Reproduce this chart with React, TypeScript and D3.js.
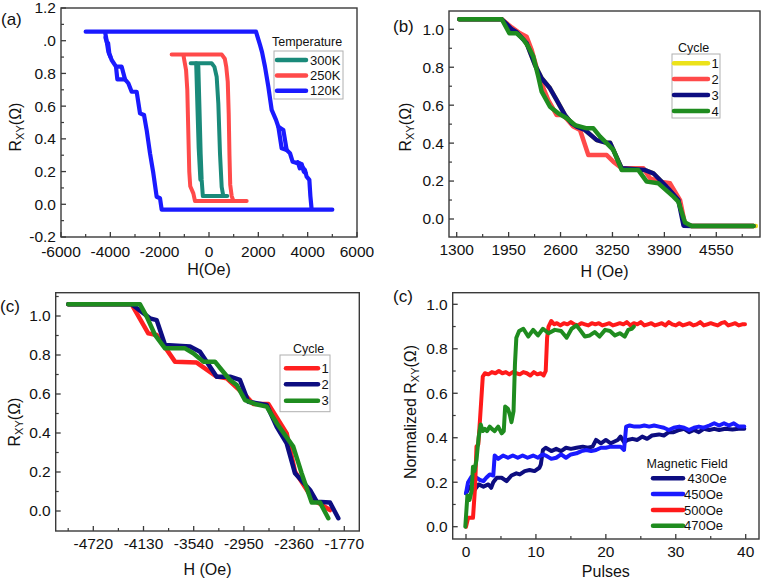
import React from "react";
import * as d3 from "d3";

type Pt = [number, number];

const FONT = "'Liberation Sans', Arial, Helvetica, sans-serif";

// ---------------- Panel (a) ----------------
const aXTicks = [-6000, -4000, -2000, 0, 2000, 4000, 6000];
const aXLabels = ["-6000", "-4000", "-2000", "0", "2000", "4000", "6000"];
const aXMinor = [-5000, -3000, -1000, 1000, 3000, 5000];
const aYTicks = [-0.2, 0, 0.2, 0.4, 0.6, 0.8, 1.0, 1.2];
const aYLabels = ["-0.2", "0.0", "0.2", "0.4", "0.6", "0.8", ".0", "1.2"];
const aYMinor = [-0.1, 0.1, 0.3, 0.5, 0.7, 0.9, 1.1];
const aLegendTitle = "Temperature";
const aLegendNames = ["300K", "250K", "120K"];

const a120Main: Pt[] = [
  [-5000, 1.055], [1905, 1.055], [2068, 0.974], [2150, 0.93], [2270, 0.841], [2405, 0.719],
  [2541, 0.577], [2716, 0.516], [2811, 0.474], [2946, 0.342], [3149, 0.332], [3284, 0.312],
  [3392, 0.26], [3500, 0.255], [3689, 0.25], [3740, 0.24], [3824, 0.22], [3890, 0.21],
  [3959, 0.169], [4068, 0.149], [4110, 0.05], [4162, -0.033], [5000, -0.033],
  [-1918, -0.033], [-1986, 0.037], [-2122, 0.046], [-2257, 0.19], [-2392, 0.312],
  [-2527, 0.454], [-2635, 0.546], [-2797, 0.556], [-2932, 0.688], [-3135, 0.688],
  [-3270, 0.74], [-3405, 0.764], [-3540, 0.841], [-3770, 0.841], [-3946, 0.882],
  [-4081, 0.933], [-4150, 1.0], [-4216, 1.055], [-5000, 1.055],
];
const a120LoopR: Pt[] = [[2811, 0.474], [3014, 0.454], [3149, 0.332]];
const a120LoopL: Pt[] = [[-3770, 0.841], [-3716, 0.764], [-3405, 0.764]];
const a120JagR: Pt[] = [[3600, 0.258], [3680, 0.22], [3760, 0.245], [3840, 0.2], [3920, 0.19]];
const a120JagL: Pt[] = [[-4200, 1.02], [-4120, 0.98], [-4090, 0.985], [-4040, 0.92], [-3990, 0.9]];
const a250: Pt[] = [
  [-1514, 0.915], [520, 0.915], [640, 0.89], [700, 0.84], [760, 0.75], [800, 0.55],
  [830, 0.3], [860, 0.12], [920, 0.05], [990, 0.02], [1527, 0.02], [-568, 0.02],
  [-635, 0.067], [-760, 0.11], [-800, 0.2], [-840, 0.45], [-880, 0.7], [-930, 0.82],
  [-1000, 0.88], [-1041, 0.915],
];
const a300: Pt[] = [
  [-743, 0.862], [108, 0.862], [220, 0.84], [311, 0.78], [378, 0.617], [446, 0.31],
  [514, 0.107], [581, 0.05], [740, 0.05], [-250, 0.05], [-297, 0.149], [-338, 0.31],
  [-392, 0.617], [-432, 0.841], [-450, 0.862],
];
const a300b: Pt[] = [[-520, 0.862], [-470, 0.6], [-420, 0.35], [-350, 0.15]];

// ---------------- Panel (b) ----------------
const bXTicks = [1300, 1950, 2600, 3250, 3900, 4550];
const bXLabels = ["1300", "1950", "2600", "3250", "3900", "4550"];
const bXMinor = [1625, 2275, 2925, 3575, 4225, 4875];
const bYTicks = [0, 0.2, 0.4, 0.6, 0.8, 1.0];
const bYLabels = ["0.0", "0.2", "0.4", "0.6", "0.8", "1.0"];
const bYMinor = [0.1, 0.3, 0.5, 0.7, 0.9];
const bLegendTitle = "Cycle";
const bLegendNames = ["1", "2", "3", "4"];
const bCycle1: Pt[] = [
  [1333, 1.053], [1864, 1.053], [1989, 1.0], [2093, 0.97], [2176, 0.926], [2280, 0.812],
  [2364, 0.742], [2468, 0.689], [2552, 0.627], [2656, 0.548], [2740, 0.504], [2803, 0.487],
  [2906, 0.469], [3053, 0.416], [3178, 0.402], [3220, 0.402], [3366, 0.267], [3658, 0.258],
  [3762, 0.241], [3929, 0.17], [4075, 0.1], [4159, -0.032], [4243, -0.037], [5045, -0.037],
];
const bCycle2: Pt[] = [
  [1333, 1.053], [1864, 1.053], [1989, 1.01], [2093, 0.979], [2176, 0.961], [2239, 0.891],
  [2343, 0.733], [2447, 0.627], [2552, 0.548], [2635, 0.548], [2760, 0.487], [2844, 0.469],
  [2948, 0.337], [3178, 0.337], [3261, 0.302], [3366, 0.267], [3637, 0.267], [3721, 0.214],
  [3846, 0.197], [3971, 0.188], [4096, 0.1], [4159, -0.03], [4243, -0.037], [5015, -0.037],
];
const bCycle3: Pt[] = [
  [1333, 1.053], [1864, 1.053], [1989, 1.0], [2051, 0.985], [2176, 0.926], [2280, 0.812],
  [2364, 0.742], [2468, 0.689], [2552, 0.627], [2656, 0.548], [2740, 0.504], [2803, 0.487],
  [2906, 0.469], [3053, 0.416], [3178, 0.402], [3220, 0.402], [3366, 0.267], [3658, 0.258],
  [3762, 0.241], [3929, 0.17], [4075, 0.1], [4140, -0.035], [4243, -0.037], [5015, -0.037],
];
const bCycle4: Pt[] = [
  [1333, 1.053], [1864, 1.053], [1959, 0.979], [2051, 0.979], [2134, 0.947], [2197, 0.908],
  [2259, 0.856], [2322, 0.75], [2364, 0.671], [2468, 0.592], [2572, 0.557], [2678, 0.531],
  [2781, 0.495], [2928, 0.478], [3011, 0.478], [3095, 0.434], [3261, 0.364], [3366, 0.258],
  [3574, 0.258], [3679, 0.197], [3825, 0.188], [4013, 0.118], [4075, 0.091], [4159, -0.019],
  [4243, -0.037], [5015, -0.037],
];

// ---------------- Panel (c) left ----------------
const cXTicks = [-4720, -4130, -3540, -2950, -2360, -1770];
const cXLabels = ["-4720", "-4130", "-3540", "-2950", "-2360", "-1770"];
const cXMinor = [-5015, -4425, -3835, -3245, -2655, -2065];
const cYTicks = [0, 0.2, 0.4, 0.6, 0.8, 1.0];
const cYLabels = ["0.0", "0.2", "0.4", "0.6", "0.8", "1.0"];
const cYMinor = [0.1, 0.3, 0.5, 0.7, 0.9, 1.1];
const cLegendTitle = "Cycle";
const cLegendNames = ["1", "2", "3"];
const cCycle1: Pt[] = [
  [-5014, 1.06], [-4269, 1.06], [-4074, 0.911], [-3975, 0.903], [-3760, 0.766], [-3505, 0.761],
  [-3270, 0.689], [-3152, 0.68], [-2917, 0.586], [-2839, 0.549], [-2663, 0.549], [-2447, 0.398],
  [-2349, 0.202], [-2134, 0.056], [-2030, 0.03], [-1938, 0.005],
];
const cCycle2: Pt[] = [
  [-5014, 1.06], [-4269, 1.06], [-4054, 0.988], [-3975, 0.979], [-3877, 0.851], [-3583, 0.843],
  [-3466, 0.817], [-3270, 0.689], [-3113, 0.689], [-2996, 0.672], [-2898, 0.56], [-2682, 0.544],
  [-2564, 0.432], [-2447, 0.347], [-2349, 0.193], [-2173, 0.108], [-2094, 0.048], [-1938, 0.043],
  [-1840, -0.037],
];
const cCycle3: Pt[] = [
  [-5014, 1.06], [-4171, 1.06], [-4092, 0.997], [-3995, 0.903], [-3877, 0.834], [-3642, 0.834],
  [-3545, 0.809], [-3427, 0.766], [-3290, 0.766], [-3211, 0.723], [-3113, 0.672], [-3034, 0.646],
  [-2937, 0.569], [-2820, 0.549], [-2682, 0.535], [-2564, 0.45], [-2467, 0.39], [-2370, 0.33],
  [-2271, 0.193], [-2153, 0.043], [-2055, 0.043], [-1958, -0.037],
];

// ---------------- Panel (c) right ----------------
const dXTicks = [0, 10, 20, 30, 40];
const dXLabels = ["0", "10", "20", "30", "40"];
const dXMinor = [5, 15, 25, 35];
const dYTicks = [0, 0.2, 0.4, 0.6, 0.8, 1.0];
const dYLabels = ["0.0", "0.2", "0.4", "0.6", "0.8", "1.0"];
const dYMinor = [0.1, 0.3, 0.5, 0.7, 0.9];
const dLegendTitle = "Magnetic Field";
const dLegendNames = [" 430Oe", "450Oe", "500Oe", "470Oe"];
const d430: Pt[] = [
  [0, 0.15], [0.5, 0.18], [1.2, 0.165], [1.8, 0.19], [2.5, 0.18], [3.2, 0.19], [3.6, 0.175],
  [3.9, 0.2], [4.4, 0.22], [5.1, 0.22], [5.8, 0.205], [6.5, 0.23], [7.2, 0.24], [7.7, 0.235],
  [8.4, 0.25], [9.1, 0.255], [9.8, 0.25], [10.5, 0.265], [10.7, 0.28], [11.0, 0.345],
  [11.4, 0.355], [12.2, 0.34], [12.9, 0.35], [13.6, 0.34], [14.3, 0.355], [15.0, 0.35],
  [15.8, 0.355], [16.7, 0.36], [17.4, 0.355], [18.1, 0.36], [18.6, 0.39], [19.3, 0.375],
  [20.0, 0.39], [20.7, 0.375], [21.7, 0.39], [22.1, 0.405], [22.6, 0.38], [23.1, 0.39],
  [23.8, 0.395], [24.5, 0.39], [25.2, 0.405], [25.9, 0.395], [26.6, 0.41], [27.6, 0.415],
  [28.3, 0.41], [29.0, 0.425], [29.7, 0.425], [30.5, 0.435], [31.2, 0.44], [31.9, 0.425],
  [32.6, 0.435], [33.3, 0.425], [34.0, 0.44], [34.8, 0.435], [35.5, 0.44], [36.2, 0.435],
  [37.1, 0.44], [38.1, 0.437], [39.0, 0.44], [39.8, 0.44],
];
const d450: Pt[] = [
  [0, 0.15], [0.3, 0.2], [0.8, 0.225], [1.5, 0.22], [2.0, 0.21], [2.5, 0.205], [2.9, 0.22],
  [3.4, 0.235], [3.9, 0.23], [4.1, 0.32], [4.6, 0.305], [5.3, 0.32], [6.0, 0.31], [6.7, 0.32],
  [7.4, 0.31], [8.1, 0.32], [8.8, 0.31], [9.6, 0.32], [10.3, 0.31], [10.7, 0.32], [11.0, 0.325],
  [11.4, 0.32], [12.2, 0.305], [12.9, 0.31], [13.6, 0.325], [14.3, 0.31], [15.0, 0.325],
  [15.8, 0.33], [16.5, 0.34], [17.2, 0.345], [17.9, 0.34], [18.6, 0.345], [19.3, 0.355],
  [20.0, 0.355], [20.7, 0.36], [21.4, 0.36], [22.1, 0.36], [22.6, 0.345], [22.9, 0.45],
  [23.4, 0.455], [24.1, 0.45], [24.8, 0.45], [25.5, 0.455], [26.2, 0.45], [26.9, 0.455],
  [27.6, 0.45], [28.3, 0.445], [29.0, 0.435], [29.7, 0.445], [30.5, 0.45], [31.2, 0.445],
  [31.9, 0.435], [32.6, 0.445], [33.3, 0.45], [34.0, 0.445], [34.8, 0.455], [35.5, 0.465],
  [36.2, 0.455], [36.9, 0.465], [37.6, 0.455], [38.3, 0.465], [39.0, 0.45], [39.8, 0.45],
];
const d500: Pt[] = [
  [0, 0], [0.3, 0.04], [1.0, 0.04], [1.3, 0.18], [1.5, 0.36], [1.76, 0.37], [2.0, 0.48],
  [2.4, 0.675], [2.7, 0.69], [3.2, 0.685], [3.7, 0.695], [4.2, 0.69], [4.7, 0.7], [5.2, 0.69],
  [5.7, 0.695], [6.2, 0.685], [6.7, 0.695], [7.2, 0.69], [7.7, 0.685], [8.2, 0.695], [8.7, 0.69],
  [9.2, 0.68], [9.7, 0.695], [10.2, 0.685], [10.7, 0.69], [11.1, 0.68], [11.4, 0.7], [11.6, 0.85],
  [11.8, 0.9], [12.2, 0.925], [12.6, 0.91], [13.0, 0.915], [13.5, 0.905], [14.0, 0.915],
  [14.5, 0.91], [15.0, 0.92], [15.5, 0.91], [16.0, 0.905], [16.5, 0.915], [17.0, 0.91],
  [17.5, 0.905], [18.0, 0.915], [18.5, 0.91], [19.0, 0.915], [19.5, 0.905], [20.0, 0.91],
  [20.5, 0.915], [21.0, 0.905], [21.5, 0.91], [22.0, 0.915], [22.5, 0.91], [23.0, 0.92],
  [23.5, 0.905], [24.0, 0.915], [24.5, 0.91], [25.0, 0.92], [25.5, 0.905], [26.0, 0.91],
  [26.5, 0.915], [27.0, 0.905], [27.5, 0.91], [28.0, 0.915], [28.5, 0.905], [29.0, 0.92],
  [29.5, 0.91], [30.0, 0.905], [30.5, 0.915], [31.0, 0.905], [31.5, 0.91], [32.0, 0.915],
  [32.5, 0.905], [33.0, 0.91], [33.5, 0.92], [34.0, 0.905], [34.5, 0.91], [35.0, 0.915],
  [35.5, 0.91], [36.0, 0.905], [36.5, 0.915], [37.0, 0.92], [37.5, 0.905], [38.0, 0.91],
  [38.5, 0.915], [39.0, 0.905], [39.5, 0.91], [39.9, 0.91],
];
const d470: Pt[] = [
  [-0.1, 0], [0.2, 0.14], [0.5, 0.12], [0.8, 0.16], [1.0, 0.27], [1.2, 0.25], [1.5, 0.3],
  [1.8, 0.4], [2.1, 0.46], [2.4, 0.43], [2.7, 0.44], [3.0, 0.43], [3.4, 0.45], [3.7, 0.44],
  [4.1, 0.43], [4.6, 0.45], [5.1, 0.42], [5.4, 0.43], [5.6, 0.54], [6.0, 0.53], [6.3, 0.5],
  [6.5, 0.47], [6.8, 0.52], [7.0, 0.73], [7.2, 0.85], [7.6, 0.88], [8.2, 0.89], [8.9, 0.855],
  [9.6, 0.885], [10.3, 0.86], [11.0, 0.89], [11.8, 0.87], [12.7, 0.885], [13.6, 0.88],
  [14.4, 0.85], [15.1, 0.89], [15.8, 0.905], [16.3, 0.885], [17.0, 0.855], [17.7, 0.86],
  [18.4, 0.875], [19.1, 0.855], [19.9, 0.885], [20.6, 0.88], [21.3, 0.86], [22.0, 0.87],
  [22.7, 0.855], [23.2, 0.885], [23.7, 0.89], [24.0, 0.9],
];

// ---------------- Generic panel ----------------
interface Series { segs: Pt[][]; color: string; width: number }
interface Legend {
  title: string; titleX: number; titleY: number;
  box?: [number, number, number, number];
  x1: number; x2: number; textX: number; rows: number[];
  names: string[]; colors: string[]; fontSize: number;
}
interface Spec {
  frame: [number, number, number, number];
  xCal: [number, number]; xPix: [number, number];
  yCal: [number, number]; yPix: [number, number];
  xTicks: number[]; xLabels: string[]; xMinor: number[];
  yTicks: number[]; yLabels: string[]; yMinor: number[];
  series: Series[];
  xLabelDy: number;
  xTitle: string; xTitleY: number;
  yTitlePre: string; yTitleX: number; yTitleY: number;
  tag: string; tagX: number; tagY: number;
  legend: Legend;
}

function Panel({ s }: { s: Spec }) {
  const [l, t, r, b] = s.frame;
  const x = d3.scaleLinear().domain(s.xCal).range(s.xPix);
  const y = d3.scaleLinear().domain(s.yCal).range(s.yPix);
  const line = d3.line<Pt>().x((d) => x(d[0])).y((d) => y(d[1]));
  const lg = s.legend;
  return (
    <g fontFamily={FONT}>
      {s.series.map((se, i) =>
        se.segs.map((seg, j) => (
          <path key={`${i}-${j}`} d={line(seg) || ""} fill="none" stroke={se.color}
            strokeWidth={se.width} strokeLinejoin="round" strokeLinecap="round" />
        ))
      )}
      <rect x={l} y={t} width={r - l} height={b - t} fill="none" stroke="#3a3a3a" strokeWidth={1.4} />
      {s.xTicks.map((v) => (
        <line key={`xt${v}`} x1={x(v)} x2={x(v)} y1={b} y2={b - 5} stroke="#3a3a3a" strokeWidth={1.3} />
      ))}
      {s.xMinor.map((v) => (
        <line key={`xm${v}`} x1={x(v)} x2={x(v)} y1={b} y2={b - 3} stroke="#3a3a3a" strokeWidth={1.2} />
      ))}
      {s.yTicks.map((v) => (
        <line key={`yt${v}`} x1={l} x2={l + 5} y1={y(v)} y2={y(v)} stroke="#3a3a3a" strokeWidth={1.3} />
      ))}
      {s.yMinor.map((v) => (
        <line key={`ym${v}`} x1={l} x2={l + 3} y1={y(v)} y2={y(v)} stroke="#3a3a3a" strokeWidth={1.2} />
      ))}
      {s.xTicks.map((v, i) => (
        <text key={`xl${v}`} x={x(v)} y={b + s.xLabelDy} fontSize={15.5} textAnchor="middle" fill="#111">{s.xLabels[i]}</text>
      ))}
      {s.yTicks.map((v, i) => (
        <text key={`yl${v}`} x={l - 5} y={y(v) + 5.4} fontSize={15.5} textAnchor="end" fill="#111">{s.yLabels[i]}</text>
      ))}
      <text x={(l + r) / 2} y={s.xTitleY} fontSize={16} textAnchor="middle" fill="#111">{s.xTitle}</text>
      <text transform={`translate(${s.yTitleX},${s.yTitleY}) rotate(-90)`} fontSize={16} textAnchor="middle" fill="#111">
        {s.yTitlePre}R<tspan fontSize={11} dy={3}>XY</tspan><tspan dy={-3}>(Ω)</tspan>
      </text>
      <text x={s.tagX} y={s.tagY} fontSize={17} fill="#111">{s.tag}</text>
      <text x={lg.titleX} y={lg.titleY} fontSize={lg.fontSize - 0.5} fill="#111">{lg.title}</text>
      {lg.box && (
        <rect x={lg.box[0]} y={lg.box[1]} width={lg.box[2] - lg.box[0]} height={lg.box[3] - lg.box[1]}
          fill="none" stroke="#b0b0b0" strokeWidth={1} />
      )}
      {lg.names.map((n, i) => (
        <g key={`lg${i}`}>
          <line x1={lg.x1} x2={lg.x2} y1={lg.rows[i]} y2={lg.rows[i]} stroke={lg.colors[i]} strokeWidth={4.5} strokeLinecap="round" />
          <text x={lg.textX} y={lg.rows[i] + 4.7} fontSize={lg.fontSize} fill="#111" style={{ whiteSpace: "pre" }}>{n}</text>
        </g>
      ))}
    </g>
  );
}

const BLUE = "#1a1aff";
const RED = "#ff4a4a";
const TEAL = "#1a8a7a";
const NAVY = "#0d0d80";
const GREEN = "#1f8c1f";
const YELLOW = "#ece21a";

export default function App() {
  const specA: Spec = {
    frame: [61, 8, 357, 237], xCal: [-6000, 6000], xPix: [61, 357], yCal: [-0.2, 1.2], yPix: [237, 8],
    xTicks: aXTicks, xLabels: aXLabels, xMinor: aXMinor, yTicks: aYTicks, yLabels: aYLabels, yMinor: aYMinor,
    series: [
      { segs: [a120Main, a120LoopR, a120LoopL, a120JagR, a120JagL], color: BLUE, width: 4.2 },
      { segs: [a250], color: RED, width: 4 },
      { segs: [a300, a300b], color: TEAL, width: 4 },
    ],
    xLabelDy: 19.5,
    xTitle: "H(Oe)", xTitleY: 275, yTitlePre: "", yTitleX: 21, yTitleY: 127,
    tag: "(a)", tagX: 1, tagY: 25,
    legend: {
      title: aLegendTitle, titleX: 272, titleY: 46, box: [274, 51, 343, 99],
      x1: 277, x2: 306, textX: 310, rows: [60, 75.5, 90.7], names: aLegendNames,
      colors: [TEAL, RED, BLUE], fontSize: 13,
    },
  };
  const specB: Spec = {
    frame: [449, 11, 760, 237], xCal: [1300, 4550], xPix: [456.7, 716.3], yCal: [0, 1], yPix: [219, 29.3],
    xTicks: bXTicks, xLabels: bXLabels, xMinor: bXMinor, yTicks: bYTicks, yLabels: bYLabels, yMinor: bYMinor,
    series: [
      { segs: [bCycle1], color: YELLOW, width: 4.5 },
      { segs: [bCycle2], color: RED, width: 4.5 },
      { segs: [bCycle3], color: NAVY, width: 4.5 },
      { segs: [bCycle4], color: GREEN, width: 4.5 },
    ],
    xLabelDy: 18,
    xTitle: "H (Oe)", xTitleY: 277, yTitlePre: "", yTitleX: 411, yTitleY: 127,
    tag: "(b)", tagX: 393, tagY: 32,
    legend: {
      title: bLegendTitle, titleX: 678, titleY: 51.5, box: [672, 54, 720, 118],
      x1: 674, x2: 708, textX: 711.5, rows: [63.3, 79, 95, 111], names: bLegendNames,
      colors: [YELLOW, RED, NAVY, GREEN], fontSize: 13,
    },
  };
  const specC: Spec = {
    frame: [55.7, 292.7, 359.3, 531], xCal: [-4720, -1770], xPix: [93.3, 344.3], yCal: [0, 1], yPix: [511, 316],
    xTicks: cXTicks, xLabels: cXLabels, xMinor: cXMinor, yTicks: cYTicks, yLabels: cYLabels, yMinor: cYMinor,
    series: [
      { segs: [cCycle1], color: "#ff2020", width: 4.5 },
      { segs: [cCycle2], color: NAVY, width: 4.5 },
      { segs: [cCycle3], color: GREEN, width: 4.5 },
    ],
    xLabelDy: 18,
    xTitle: "H (Oe)", xTitleY: 575, yTitlePre: "", yTitleX: 20, yTitleY: 422,
    tag: "(c)", tagX: 0, tagY: 312,
    legend: {
      title: cLegendTitle, titleX: 293, titleY: 352.5, box: [280, 355, 330, 411.7],
      x1: 286, x2: 318, textX: 321.5, rows: [368.3, 384.3, 400.7], names: cLegendNames,
      colors: ["#ff2020", NAVY, GREEN], fontSize: 13,
    },
  };
  const specD: Spec = {
    frame: [452.7, 292.7, 759, 539], xCal: [0, 40], xPix: [466, 745.7], yCal: [0, 1], yPix: [526.7, 304.3],
    xTicks: dXTicks, xLabels: dXLabels, xMinor: dXMinor, yTicks: dYTicks, yLabels: dYLabels, yMinor: dYMinor,
    series: [
      { segs: [d430], color: NAVY, width: 4 },
      { segs: [d450], color: BLUE, width: 4 },
      { segs: [d500], color: "#ff1a1a", width: 4 },
      { segs: [d470], color: GREEN, width: 4 },
    ],
    xLabelDy: 18,
    xTitle: "Pulses", xTitleY: 577, yTitlePre: "Normalized ", yTitleX: 416, yTitleY: 412,
    tag: "(c)", tagX: 393, tagY: 302,
    legend: {
      title: dLegendTitle, titleX: 646.5, titleY: 467.5,
      x1: 653, x2: 683, textX: 684, rows: [478.3, 494, 510, 525.7], names: dLegendNames,
      colors: [NAVY, BLUE, "#ff1a1a", GREEN], fontSize: 13,
    },
  };
  return (
    <div style={{ position: "absolute", left: 0, top: 0 }}>
      <svg width={766} height={582} viewBox="0 0 766 582" style={{ display: "block", background: "#fff" }}>
        <rect x={0} y={0} width={766} height={582} fill="#fff" />
        <Panel s={specA} />
        <Panel s={specB} />
        <Panel s={specC} />
        <Panel s={specD} />
      </svg>
    </div>
  );
}
